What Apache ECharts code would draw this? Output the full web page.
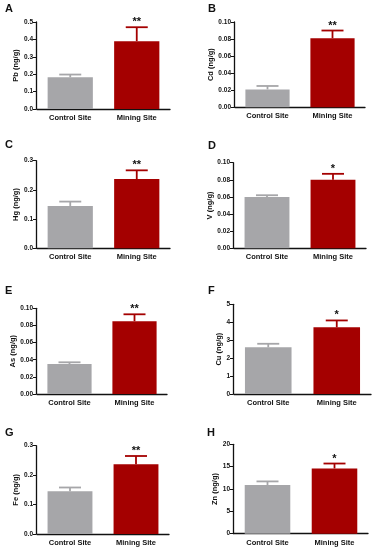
<!DOCTYPE html>
<html>
<head>
<meta charset="utf-8">
<script src="https://cdn.jsdelivr.net/npm/echarts@6/dist/echarts.min.js"></script>
<style>
html,body{margin:0;padding:0;background:#fff;}
#c{width:375px;height:550px;}
</style>
</head>
<body>
<div id="c"></div>
<script>
// ---- data ----
const categories = ['Control Site', 'Mining Site'];
const panelLetters = ['A', 'B', 'C', 'D', 'E', 'F', 'G', 'H'];
const yTitles = ['Pb (ng/g)', 'Cd (ng/g)', 'Hg (ng/g)', 'V (ng/g)', 'As (ng/g)', 'Cu (ng/g)', 'Fe (ng/g)', 'Zn (ng/g)'];
const controlMean = [0.182, 0.021, 0.145, 0.060, 0.035, 2.60, 0.145, 10.9];
const controlSE   = [0.016, 0.004, 0.015, 0.002, 0.002, 0.20, 0.013, 0.8];
const miningMean  = [0.390, 0.081, 0.237, 0.080, 0.085, 3.72, 0.237, 14.6];
const miningSE    = [0.080, 0.009, 0.030, 0.007, 0.008, 0.38, 0.028, 1.1];
const significance = ['**', '**', '**', '*', '**', '*', '**', '*'];
const yMax = [0.5, 0.10, 0.3, 0.10, 0.10, 5, 0.3, 20];
const yStep = [0.1, 0.02, 0.1, 0.02, 0.02, 1, 0.1, 5];
const yDecimals = [1, 2, 1, 2, 2, 0, 1, 0];

// ---- layout (pixels) ----
const gridBoxes = [
  {left: 37, top: 22, width: 133, height: 87},
  {left: 235, top: 22, width: 130, height: 85.3},
  {left: 37, top: 160.7, width: 133, height: 87.6},
  {left: 234, top: 162.7, width: 132, height: 85.6},
  {left: 37, top: 308.3, width: 130, height: 85.7},
  {left: 234, top: 304.3, width: 137, height: 89.7},
  {left: 37, top: 445.7, width: 132, height: 88.3},
  {left: 234, top: 444.3, width: 134, height: 89.4}
];
const letterPos = [[5,3],[208,3],[5,139],[208,140],[5,285],[208,285],[5,427],[207,427]];

const GRAY = '#a6a6a9';
const RED = '#a40000';
const FONT = '"Liberation Sans", Arial, sans-serif';

const grid = [], xAxis = [], yAxis = [], series = [], graphic = [];
for (let i = 0; i < 8; i++) {
  const g = gridBoxes[i];
  grid.push({left: g.left, top: g.top, width: g.width, height: g.height, containLabel: false});
  xAxis.push({
    type: 'category', gridIndex: i, data: categories,
    axisLine: {lineStyle: {color: '#111', width: 1.3}},
    axisTick: {show: false},
    axisLabel: {color: '#111', fontFamily: FONT, fontWeight: 'bold', fontSize: 7.5, margin: 5}
  });
  const dec = yDecimals[i];
  yAxis.push({
    type: 'value', gridIndex: i, min: 0, max: yMax[i], interval: yStep[i],
    offset: 1,
    name: yTitles[i], nameLocation: 'middle', nameGap: dec === 2 ? 16 : (dec === 1 ? 13 : 10),
    nameTextStyle: {color: '#111', fontFamily: FONT, fontWeight: 'bold', fontSize: 7.5},
    splitLine: {show: false},
    axisLine: {show: true, lineStyle: {color: '#111', width: 1.3}},
    axisTick: {show: true, length: 3, lineStyle: {color: '#111', width: 1}},
    axisLabel: {color: '#111', fontFamily: FONT, fontWeight: 'bold', fontSize: 6.5, margin: 3,
      formatter: v => v.toFixed(dec)}
  });
  series.push({
    type: 'bar', xAxisIndex: i, yAxisIndex: i, barWidth: '68%',
    data: [
      {value: controlMean[i], itemStyle: {color: GRAY}},
      {value: miningMean[i], itemStyle: {color: RED}}
    ],
    z: 2
  });
  series.push({
    type: 'custom', xAxisIndex: i, yAxisIndex: i, z: 3,
    data: [
      [0, controlMean[i], controlMean[i] + controlSE[i], ''],
      [1, miningMean[i], miningMean[i] + miningSE[i], significance[i]]
    ],
    renderItem: function (params, api) {
      const base = api.coord([api.value(0), api.value(1)]);
      const top = api.coord([api.value(0), api.value(2)]);
      const col = params.dataIndex === 0 ? GRAY : RED;
      const capHalf = 11;
      const children = [
        {type: 'line', shape: {x1: base[0], y1: base[1], x2: top[0], y2: top[1]},
         style: {stroke: col, lineWidth: 1.8}},
        {type: 'line', shape: {x1: top[0] - capHalf, y1: top[1], x2: top[0] + capHalf, y2: top[1]},
         style: {stroke: col, lineWidth: 1.8}}
      ];
      const txt = api.value(3);
      if (txt) {
        children.push({type: 'text', x: top[0], y: top[1] + 0.5,
          style: {text: txt, fill: '#111', font: 'bold 11px ' + FONT, align: 'center', verticalAlign: 'bottom'}});
      }
      return {type: 'group', children: children};
    }
  });
  graphic.push({type: 'text', left: letterPos[i][0], top: letterPos[i][1],
    style: {text: panelLetters[i], fill: '#111', font: 'bold 11px ' + FONT}});
}

const chart = echarts.init(document.getElementById('c'), null, {renderer: 'canvas'});
chart.setOption({animation: false, backgroundColor: '#fff', grid, xAxis, yAxis, series, graphic});
</script>
</body>
</html>
